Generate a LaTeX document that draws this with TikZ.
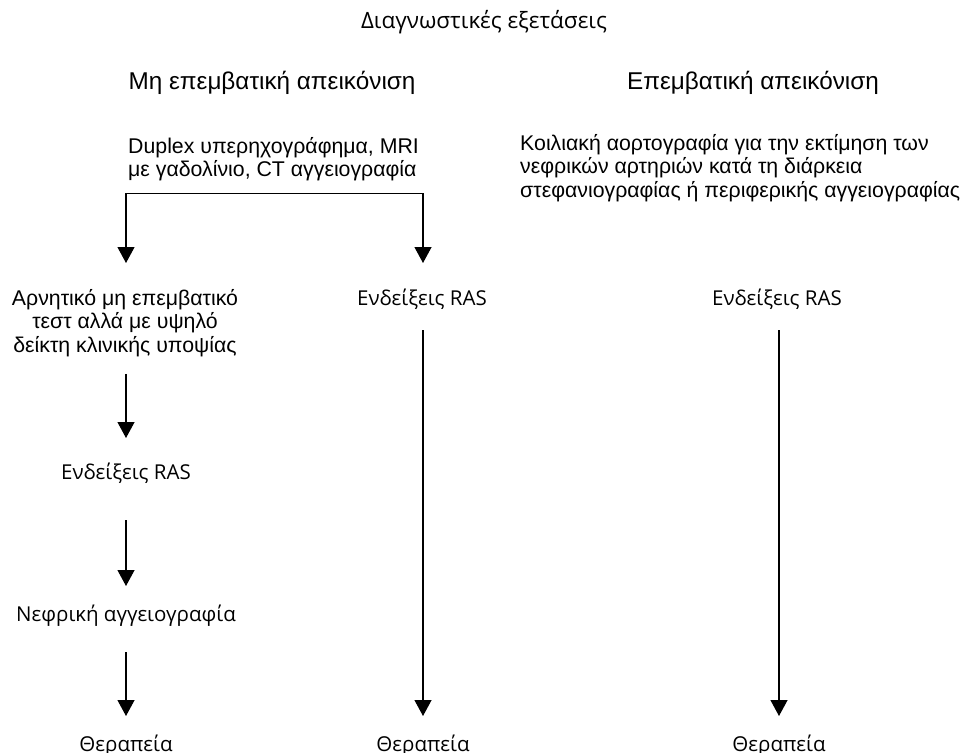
\documentclass[tikz,border=0pt]{standalone}
\usepackage{fontspec}
\setmainfont{Liberation Sans}
\newfontfamily\humfont{Open Sans}
\usetikzlibrary{arrows.meta}
\begin{document}
\begin{tikzpicture}[x=1pt,y=-1pt,
  txt/.style={font=\fontsize{21.3}{23.5}\selectfont, inner sep=0pt},
  head/.style={font=\fontsize{24.3}{26}\selectfont, inner sep=0pt},
  htxt/.style={font=\humfont\fontsize{20.5}{23}\selectfont, inner sep=0pt},
  conn/.style={line width=1.2pt},
  arr/.style={line width=1.2pt, -{Triangle[width=17pt,length=16pt]}}]
\useasboundingbox (0,0) rectangle (965,752);
\node[htxt, anchor=base, font=\humfont\fontsize{22.5}{26}\selectfont] (title) at (484,29) {Διαγνωστικές εξετάσεις};
\node[head, anchor=base] (mh) at (272,89) {Μη επεμβατική απεικόνιση};
\node[head, anchor=base] (ep) at (753,89) {Επεμβατική απεικόνιση};
\node[txt, align=left, anchor=north west] (dup) at (128,137) {Duplex υπερηχογράφημα, MRI\\με γαδολίνιο, CT αγγειογραφία};
\node[txt, align=left, anchor=north west] (koil) at (520,134) {Κοιλιακή αορτογραφία για την εκτίμηση των\\νεφρικών αρτηριών κατά τη διάρκεια\\στεφανιογραφίας ή περιφερικής αγγειογραφίας};
\node[txt, align=center, anchor=north] (neg) at (125,289) {Αρνητικό μη επεμβατικό\\τεστ αλλά με υψηλό\\δείκτη κλινικής υποψίας};
\node[htxt, anchor=base] (ras1) at (126,479) {Ενδείξεις RAS};
\node[htxt, anchor=base] (ras2) at (422,305) {Ενδείξεις RAS};
\node[htxt, anchor=base] (ras3) at (777,305) {Ενδείξεις RAS};
\node[htxt, anchor=base] (nef) at (126,621) {Νεφρική αγγειογραφία};
\node[htxt, anchor=base] (th1) at (126,751) {Θεραπεία};
\node[htxt, anchor=base] (th2) at (423,751) {Θεραπεία};
\node[htxt, anchor=base] (th3) at (779,751) {Θεραπεία};
% bracket from the non-invasive tests
\coordinate (split) at ([yshift=-12pt]dup.south);
\draw[conn] (split -| th1) -- (split -| th2);
\draw[arr] (split -| th1) -- ([yshift=26pt]neg.north -| th1);
\draw[arr] (split -| th2) -- ([yshift=42pt]ras2.base -| th2);
% left column
\draw[arr] ([yshift=-17pt]neg.south -| th1) -- ([yshift=41pt]ras1.base -| th1);
\draw[arr] ([yshift=-41pt]ras1.base -| th1) -- ([yshift=35pt]nef.base -| th1);
\draw[arr] ([yshift=-31pt]nef.base -| th1) -- ([yshift=35pt]th1.base);
% middle and right columns
\draw[arr] ([yshift=-25pt]ras2.base -| th2) -- ([yshift=35pt]th2.base);
\draw[arr] ([yshift=-25pt]ras3.base -| th3) -- ([yshift=35pt]th3.base);
\end{tikzpicture}
\end{document}
